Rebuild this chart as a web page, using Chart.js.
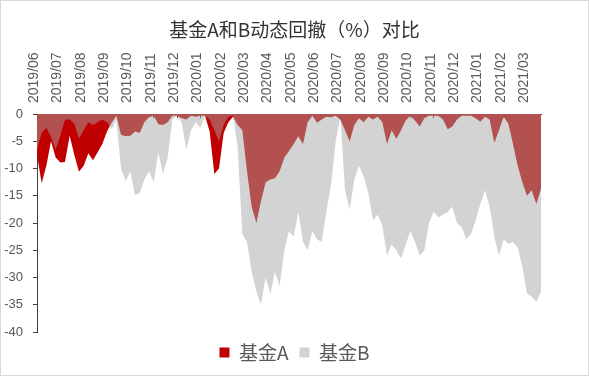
<!DOCTYPE html>
<html>
<head>
<meta charset="utf-8">
<script src="https://cdn.jsdelivr.net/npm/chart.js@4.4.1/dist/chart.umd.min.js"></script>
<style>
    body { margin: 0; background: #fff; }
    #wrap { position: relative; width: 589px; height: 376px; }
    #frame { position: absolute; left: 0; top: 0; width: 587px; height: 374px; border: 1px solid #d9d9d9; pointer-events: none; }
</style>
</head>
<body>
<div id="wrap">
    <canvas id="drawdownChart" width="589" height="376"></canvas>
    <div id="frame"></div>
</div>
<script>
// Etiquetas del eje X (una cada 5 puntos)
const meses = ['2019/06', '2019/07', '2019/08', '2019/09', '2019/10', '2019/11', '2019/12',
    '2020/01', '2020/02', '2020/03', '2020/04', '2020/05', '2020/06', '2020/07', '2020/08',
    '2020/09', '2020/10', '2020/11', '2020/12', '2021/01', '2021/02', '2021/03'];
const puntosPorMes = 5;

// Retroceso dinámico (%) del fondo A
const fondoA = [
    -7.5, -12.7, -9.5, -5, -8, -8.9, -8.8, -4, -7.5, -10.6,
    -9.5, -7.2, -8.5, -7, -5.5, -3.2, -1.6, -0.3, -3.8, -4.1,
    -4, -3.2, -3.5, -1.5, -0.6, -0.3, -1.9, -2, -1.5, -0.3,
    -0.3, -0.8, -1, -0.3, -0.5, -0.3, -0.3, -3.2, -11, -10,
    -3.5, -1.5, -0.5, -2, -3, -10.5, -17, -20, -16, -12.5,
    -12, -11.8, -10.5, -8, -6.8, -5.5, -4.1, -5.5, -1.5, -0.3,
    -1.6, -1, -0.5, -0.6, -0.3, -1, -3, -5, -2, -0.8,
    -1.5, -0.5, -1, -0.5, -1.5, -5.5, -3, -4.6, -3, -1.2,
    -0.3, -1.2, -2.3, -0.8, -0.3, -0.3, -0.3, -1, -2.8, -2.3,
    -1, -0.3, -0.3, -0.3, -0.8, -1.4, -0.5, -1, -5.3, -3,
    -0.5, -1.8, -5.5, -9.5, -12.5, -15, -14, -16.5, -13.7
];

// Retroceso dinámico (%) del fondo B
const fondoB = [
    -6.5, -3.5, -2.5, -4.2, -6.5, -4, -1, -1, -1.8, -4.5,
    -3, -1.5, -2, -1.5, -1, -1.5, -2.8, -1, -10, -12.3,
    -10.5, -14.9, -14.5, -12, -10.5, -12.5, -7, -11, -8, -1,
    -0.3, -1.5, -6.5, -3, -1.5, -2.5, -0.3, -1, -3, -5,
    -2, -0.5, -0.3, -6, -22, -23.5, -29, -32.5, -35, -30,
    -33, -29, -31.5, -25, -21.5, -22.5, -18, -23.5, -25, -21.5,
    -23, -23.5, -18, -13, -5, -0.5, -14, -17.5, -12, -9.5,
    -11.5, -14.5, -19.5, -18.5, -20.5, -26, -24, -25, -26.5, -24,
    -21.5, -23.5, -26, -25, -20, -18, -19, -18.5, -18, -17,
    -20, -20.8, -23, -22, -19.5, -16.5, -14, -17, -22.5, -26,
    -23, -23.8, -23.5, -24.5, -28, -33, -33.5, -34.5, -32.5
];

const marcasY = [0, -5, -10, -15, -20, -25, -30, -35, -40];

function aPuntos(serie) {
    return serie.map((v, i) => ({ x: i, y: v }));
}

const fuenteTexto = '"Noto Sans CJK SC", "Liberation Sans", sans-serif';
const fuenteEjes = '"Liberation Sans", "Noto Sans CJK SC", sans-serif';

const ctx = document.getElementById('drawdownChart').getContext('2d');

window.retrocesoChart = new Chart(ctx, {
    type: 'line',
    data: {
        datasets: [{
            label: '基金A',
            data: aPuntos(fondoA),
            backgroundColor: '#c00000',
            borderWidth: 0,
            pointRadius: 0,
            fill: 'origin',
            tension: 0,
            order: 1
        }, {
            label: '基金B',
            data: aPuntos(fondoB),
            backgroundColor: 'rgba(165, 165, 165, 0.49)',
            borderWidth: 0,
            pointRadius: 0,
            fill: 'origin',
            tension: 0,
            order: 0
        }]
    },
    options: {
        responsive: false,
        animation: false,
        layout: {
            padding: { left: 0, right: 0, top: 0, bottom: 4 }
        },
        plugins: {
            title: {
                display: true,
                text: '基金A和B动态回撤（%）对比',
                color: '#333333',
                font: { family: fuenteTexto, size: 19, weight: 'normal' },
                padding: { top: 18.5, bottom: 0 }
            },
            legend: {
                position: 'bottom',
                labels: {
                    boxWidth: 10,
                    boxHeight: 10,
                    padding: 11,
                    color: '#595959',
                    font: { family: fuenteTexto, size: 19 },
                    sort: (a, b) => a.datasetIndex - b.datasetIndex
                }
            },
            tooltip: { enabled: false }
        },
        scales: {
            x: {
                type: 'linear',
                position: 'top',
                min: 0,
                max: fondoA.length - 1,
                afterFit: (scale) => { scale.height = 72.7; },
                grid: {
                    drawOnChartArea: false,
                    tickLength: -4,
                    color: '#404040'
                },
                border: { color: '#404040', width: 1 },
                ticks: {
                    stepSize: puntosPorMes,
                    includeBounds: false,
                    autoSkip: false,
                    minRotation: 90,
                    maxRotation: 90,
                    padding: 15,
                    labelOffset: 14,
                    color: '#595959',
                    font: { family: fuenteEjes, size: 14 },
                    callback: (v) => meses[v / puntosPorMes] || ''
                }
            },
            y: {
                min: -40,
                max: 0,
                afterFit: (scale) => { scale.width = 37; },
                afterBuildTicks: (scale) => { scale.ticks = marcasY.map(v => ({ value: v })); },
                grid: {
                    drawOnChartArea: false,
                    tickLength: 4,
                    color: '#404040'
                },
                border: { color: '#404040', width: 1 },
                ticks: {
                    padding: 10,
                    color: '#595959',
                    font: { family: fuenteEjes, size: 13 }
                }
            },
            // Eje vacío a la derecha para dejar el margen sin descentrar título y leyenda
            margen: {
                position: 'right',
                min: -40,
                max: 0,
                afterFit: (scale) => { scale.width = 48; },
                grid: { display: false },
                border: { display: false },
                ticks: { display: false }
            }
        }
    }
});
</script>
</body>
</html>
